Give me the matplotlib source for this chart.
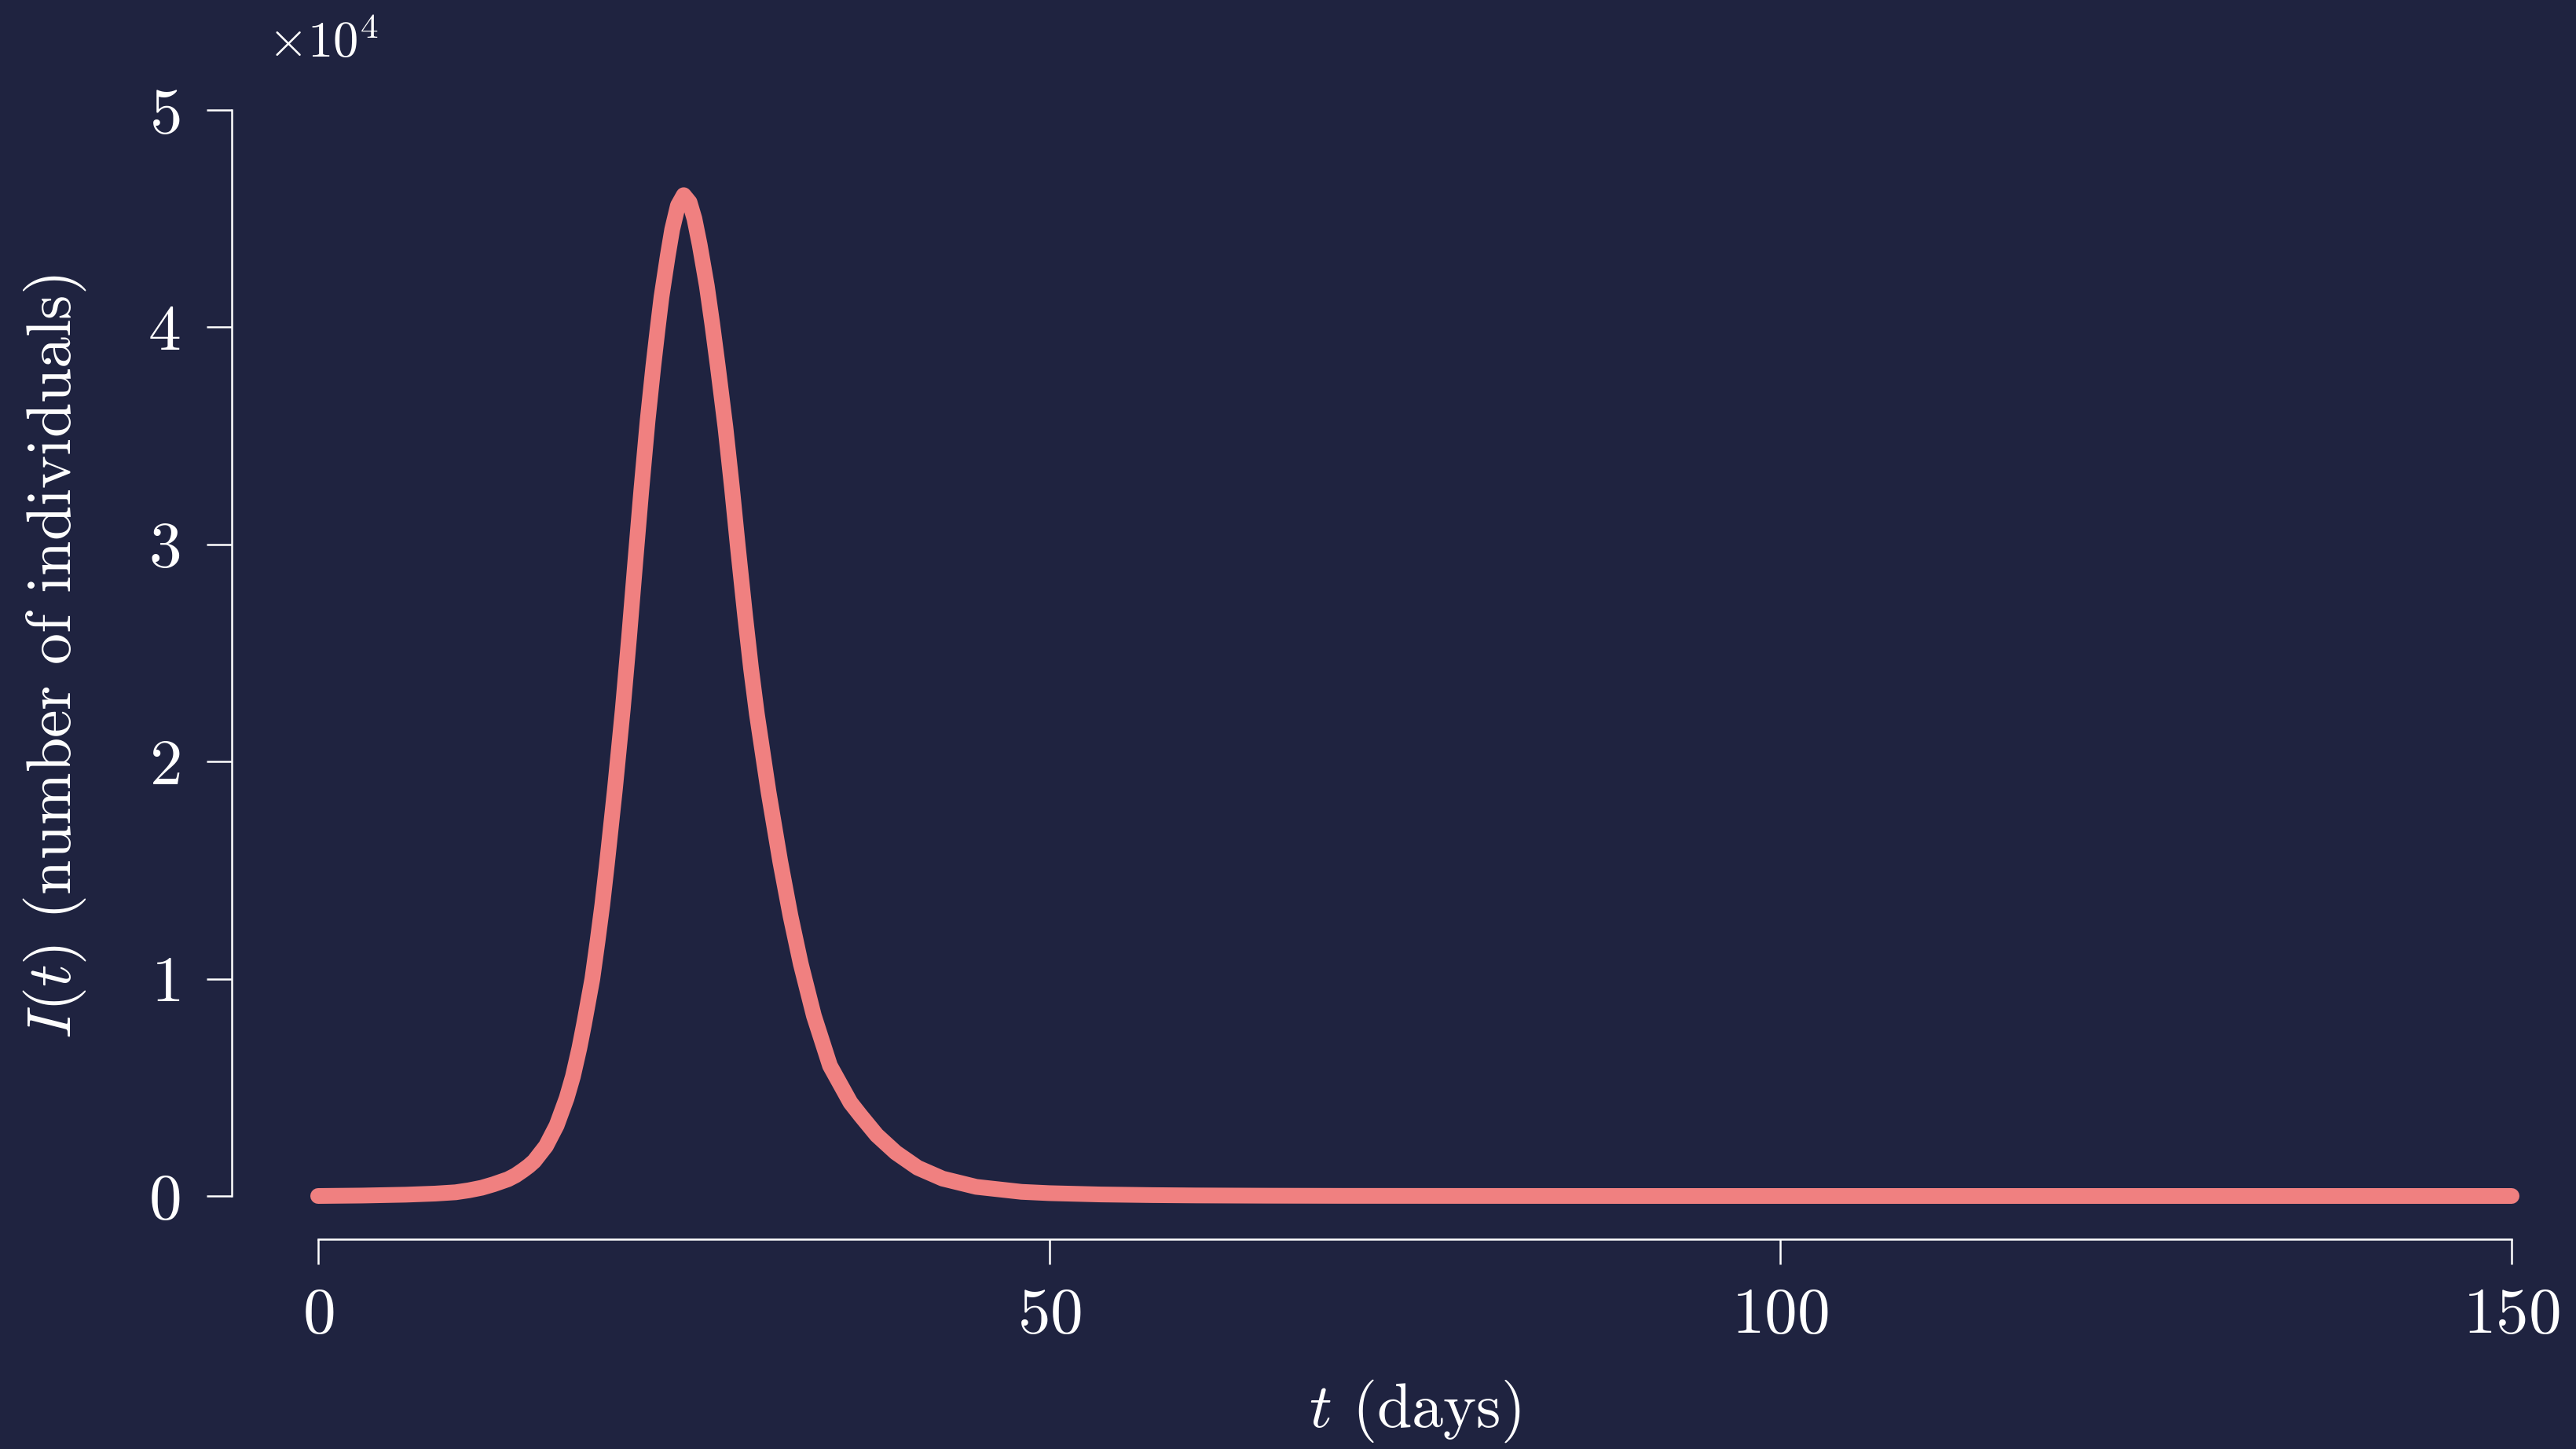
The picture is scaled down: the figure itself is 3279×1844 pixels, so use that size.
import matplotlib
matplotlib.use("Agg")
import matplotlib.pyplot as plt
from matplotlib.ticker import ScalarFormatter

# ---- data ----
t_days = [0, 3, 6, 8, 9.4, 10.3, 11.19, 12.0, 12.98, 13.5, 14.0, 14.4, 14.77,
          15.58, 16.31, 16.99, 17.42, 17.86, 18.18, 18.75, 19.1, 19.43, 19.75,
          20.29, 20.83, 21.26, 21.7, 22.1, 22.53, 22.92, 23.21, 23.48, 23.91,
          24.21, 24.6, 25.0, 25.4, 25.73, 26.09, 26.58, 26.95, 27.33, 27.85,
          28.3, 28.7, 29.2, 29.6, 30.0, 30.8, 31.6, 32.3, 33.0, 33.9, 35.0,
          36.4, 37.1, 38.2, 39.5, 41.0, 42.7, 45.0, 48.1, 50.0, 53.5, 57.0,
          60.0, 65.0, 70.0, 80.0, 90.0, 100.0, 120.0, 150.0]
infected = [0, 20, 60, 110, 170, 260, 380, 540, 770, 950, 1180, 1380, 1600,
            2300, 3250, 4500, 5500, 6800, 7900, 10000, 11700, 13400, 15300,
            18700, 22400, 25700, 29300, 32500, 35700, 38200, 39900, 41400, 43300,
            44500, 45600, 46080, 45750, 45000, 43800, 41900, 40150, 38200, 35400,
            32600, 29900, 26700, 24300, 22200, 18600, 15400, 12900, 10700, 8300, 6000,
            4300, 3700, 2800, 2000, 1300, 800, 420, 190, 130, 70, 40,
            25, 12, 5, 2, 0, 0, 0, 0]
x_ticks = [0, 50, 100, 150]
y_ticks = [0, 10000, 20000, 30000, 40000, 50000]

BG = "#1f2340"
FG = "white"
LINE = "#f08080"

plt.rcParams["font.family"] = ["cmr10", "DejaVu Serif"]
plt.rcParams["mathtext.fontset"] = "cm"
plt.rcParams["axes.unicode_minus"] = False
plt.rcParams["axes.formatter.use_mathtext"] = True

W, H = 3279, 1844
fig = plt.figure(figsize=(W / 300, H / 300), dpi=300, facecolor=BG)
ax = fig.add_axes([405 / W, 1 - 1522 / H, (3197 - 405) / W, (1522 - 140) / H])
ax.set_facecolor(BG)

ax.plot(t_days, infected, color=LINE, lw=4.8, solid_capstyle="round",
        solid_joinstyle="round", clip_on=False)

ax.set_xlim(0, 150)
ax.set_ylim(0, 50000)
ax.set_xticks(x_ticks)
ax.set_yticks(y_ticks)

fmt = ScalarFormatter(useMathText=True)
fmt.set_powerlimits((0, 0))
ax.yaxis.set_major_formatter(fmt)
ax.yaxis.get_offset_text().set_visible(False)

for s in ["top", "right"]:
    ax.spines[s].set_visible(False)
ax.spines["left"].set_position(("outward", 26.4))
ax.spines["bottom"].set_position(("outward", 13.2))
ax.spines["left"].set_bounds(0, 50000)
ax.spines["bottom"].set_bounds(0, 150)
for s in ["left", "bottom"]:
    ax.spines[s].set_color(FG)
    ax.spines[s].set_linewidth(0.6)

ax.tick_params(colors=FG, labelcolor=FG, length=7.7, width=0.6, labelsize=20)
ax.tick_params(axis="x", pad=7)
ax.tick_params(axis="y", pad=8)

fig.text(341 / W, 1 - 56 / H, r"$\times10^{4}$", color=FG, fontsize=15.5,
         ha="left", va="center")
fig.text(1801 / W, 1 - 1796 / H, r"$t$ (days)", color=FG, fontsize=19.2,
         ha="center", va="center")
fig.text(70 / W, 1 - 836 / H, r"$I(t)$ (number of individuals)", color=FG,
         fontsize=19.2, ha="center", va="center", rotation=90)

fig.savefig("out.png", dpi=300, facecolor=BG)
